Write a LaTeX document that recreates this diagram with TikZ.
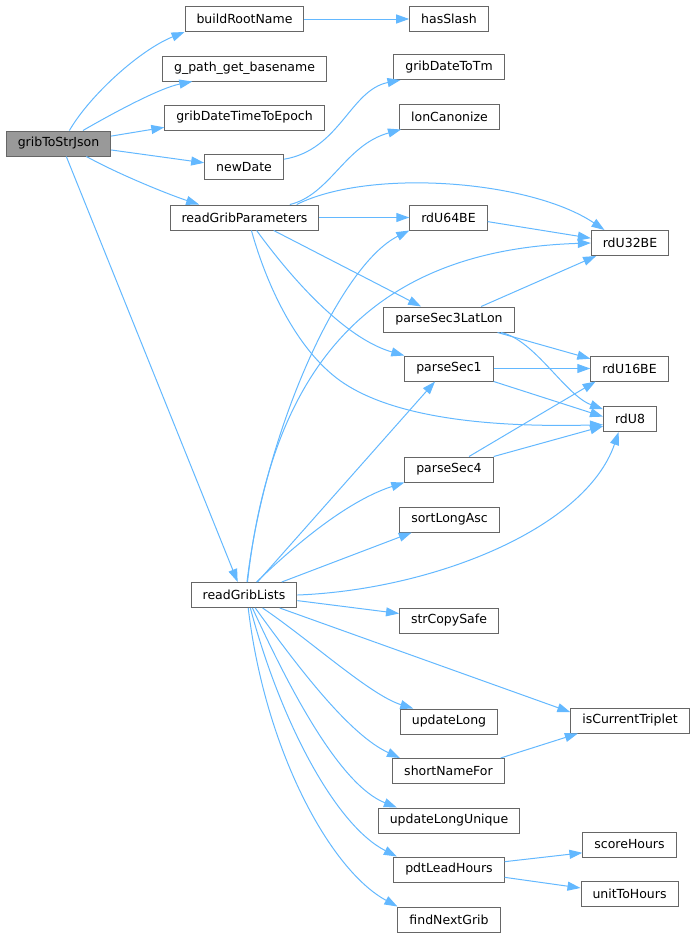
\documentclass[tikz,border=0pt]{standalone}
\usepackage{fontspec}
\newfontfamily\fnfont{DejaVu Sans}
\usetikzlibrary{arrows.meta}
\definecolor{EdgeClr}{RGB}{99,184,255}
\definecolor{BoxClr}{RGB}{102,102,102}
\definecolor{RootClr}{RGB}{153,153,153}

\begin{document}
\begin{tikzpicture}[x=1pt,y=-1pt,
  fn/.style={draw=BoxClr,line width=1pt,fill=white,font=\fnfont\fontsize{12.5}{15}\selectfont,inner xsep=11.5pt,inner ysep=0pt,minimum height=25pt},
  root/.style={fn,fill=RootClr},
  call/.style={draw=EdgeClr,line width=1pt,-{Triangle[length=13pt,width=9pt]}}]
\useasboundingbox (0,0) rectangle (696,937);

\node[root] (G) at (58.5,143.5) {gribToStrJson};
\node[fn] (BRN) at (244.5,19) {buildRootName};
\node[fn] (GPB) at (244.5,68.5) {g\_path\_get\_basename};
\node[fn] (GDTE) at (244.5,117.5) {gribDateTimeToEpoch};
\node[fn] (ND) at (244,167) {newDate};
\node[fn] (RGP) at (244.5,217.5) {readGribParameters};
\node[fn] (RGL) at (244,595) {readGribLists};

\node[fn] (HS) at (449,19) {hasSlash};
\node[fn] (GDTM) at (449,67) {gribDateToTm};
\node[fn] (LC) at (449.5,116.5) {lonCanonize};
\node[fn] (U64) at (448.5,217.5) {rdU64BE};
\node[fn] (PS3) at (449,319.5) {parseSec3LatLon};
\node[fn] (PS1) at (449,368.5) {parseSec1};
\node[fn] (PS4) at (449,469.5) {parseSec4};
\node[fn] (SLA) at (449.5,519.5) {sortLongAsc};
\node[fn] (SCS) at (449,620.5) {strCopySafe};
\node[fn] (UL) at (449,721.5) {updateLong};
\node[fn] (SNF) at (448.5,771) {shortNameFor};
\node[fn] (ULU) at (449,820.5) {updateLongUnique};
\node[fn] (PLH) at (449,869.5) {pdtLeadHours};
\node[fn] (FNG) at (449,919.5) {findNextGrib};

\node[fn] (U32) at (630,243) {rdU32BE};
\node[fn] (U16) at (629.5,368.5) {rdU16BE};
\node[fn] (U8) at (630,419) {rdU8};
\node[fn] (ICT) at (630,720.5) {isCurrentTriplet};
\node[fn] (SH) at (629.5,844.5) {scoreHours};
\node[fn] (UTH) at (629.5,894) {unitToHours};

\draw[call] (G.50) .. controls (90,95) and (140,50) .. (BRN.south west);
\draw[call] (G.28) .. controls (115,112) and (160,88) .. (GPB.194);
\draw[call] (G.8) -- (GDTE.187);
\draw[call] (G.-7) -- (ND.174);
\draw[call] (G.-25) .. controls (120,175) and (170,195) .. (RGP.164);
\draw[call] (G.-59) -- (RGL.116);
\draw[call] (BRN) -- (HS);
\draw[call] (ND.11) .. controls (340,150) and (350,90) .. (GDTM.195);

\draw[call] (RGP.16) .. controls (330,195) and (345,145) .. (LC.195);
\draw[call] (RGP.14) .. controls (370,168) and (530,180) .. (U32.153);
\draw[call] (RGP) -- (U64);
\draw[call] (RGP.-24) -- (PS3.155);
\draw[call] (RGP.-47) .. controls (300,290) and (350,340) .. (PS1.north west);
\draw[call] (RGP.-62) .. controls (268,290) and (300,355) .. (345,384) .. controls (390,413) and (470,428) .. (U8.192);

\draw[call] (U64.-6) -- (U32.173);
\draw[call] (PS3.22) -- (U32.201);
\draw[call] (PS3.-15) -- (U16.166);
\draw[call] (PS3.-14) .. controls (535,340) and (565,395) .. (U8.160);
\draw[call] (PS1) -- (U16);
\draw[call] (PS1.south east) -- (U8.175);
\draw[call] (PS4.33) -- (U16.201);
\draw[call] (PS4.north east) -- (U8.195);

\draw[call] (RGL.77) .. controls (265,430) and (340,265) .. (U64.south west);
\draw[call] (RGL.75) .. controls (270,380) and (360,250) .. (U32.west);
\draw[call] (RGL.44) -- (PS1.223);
\draw[call] (RGL.46) .. controls (300,540) and (350,500) .. (PS4.south west);
\draw[call] (RGL.19) -- (SLA.199);
\draw[call] (RGL.east) .. controls (430,590) and (585,530) .. (U8.229);
\draw[call] (RGL.-6) -- (SCS.172);
\draw[call] (RGL.-20) -- (ICT.172);
\draw[call] (RGL.-35) .. controls (310,640) and (370,695) .. (UL.160);
\draw[call] (RGL.-49) .. controls (300,670) and (350,735) .. (SNF.165);
\draw[call] (RGL.-57) .. controls (290,690) and (340,785) .. (ULU.166);
\draw[call] (RGL.-64) .. controls (280,720) and (335,825) .. (PLH.166);
\draw[call] (RGL.-72) .. controls (265,750) and (330,870) .. (FNG.north west);

\draw[call] (SNF.14) -- (ICT.194);
\draw[call] (PLH.8) -- (SH.190);
\draw[call] (PLH.-8) -- (UTH.173);

\end{tikzpicture}
\end{document}
